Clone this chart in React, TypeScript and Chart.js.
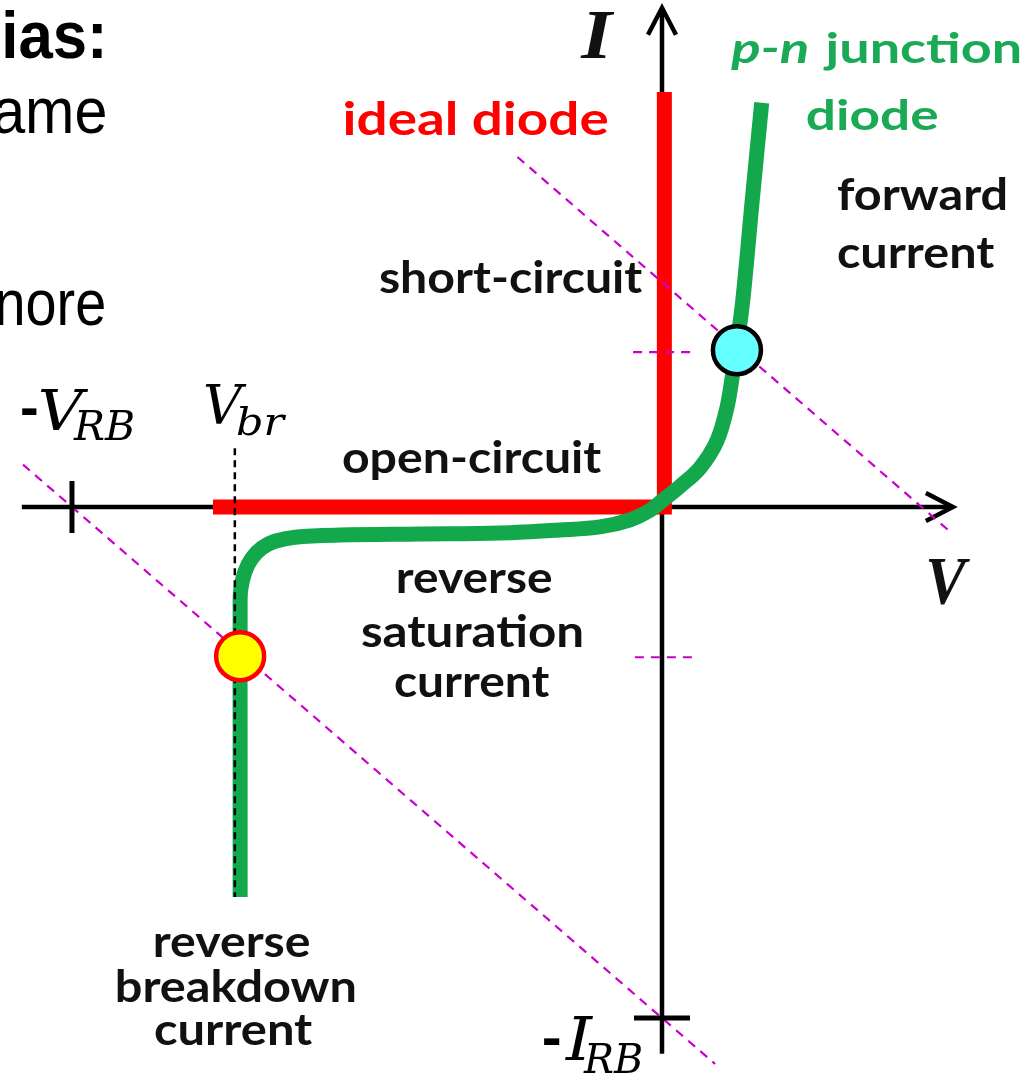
import React, { useEffect, useRef } from 'react';
import { Chart, registerables } from 'chart.js';

Chart.register(...registerables);

// ---- scale ranges (V horizontal, I vertical; origin at the axis crossing) ----
const V_RANGE = [-11.22, 6.288];
const I_RANGE = [-11.076, 9.922];

// ---- p-n junction diode I-V curve ----
const DIODE_V = [-7.15, -7.15, -7.15, -7.14, -7.07, -6.95, -6.78, -6.56, -6.22, -5.46, -4.1, -2.75, -1.73, -1.05, -0.54, -0.2, 0.0, 0.31, 0.64, 0.93, 1.1, 1.2, 1.27, 1.37, 1.53, 1.69];
const DIODE_I = [-7.63, -4.76, -2.02, -1.62, -1.27, -1.0, -0.8, -0.67, -0.59, -0.55, -0.53, -0.51, -0.45, -0.39, -0.25, -0.06, 0.12, 0.41, 0.76, 1.29, 1.94, 2.62, 3.17, 4.05, 6.01, 7.91];

// ---- ideal diode (open-circuit / short-circuit) ----
const IDEAL_V = [-7.61, 0.04, 0.04];
const IDEAL_I = [0, 0, 8.12];

// ---- axes ----
const V_AXIS = [-10.85, 4.93];
const I_AXIS = [-10.7, 9.77];
const V_RB = -10;
const I_RB = -10;

// ---- breakdown voltage marker ----
const V_BR = -7.24;
const V_BR_MARK_I = [1.15, -7.63];

// ---- load lines ----
const LOAD_FWD_V = [-2.45, 4.93];
const LOAD_FWD_I = [6.85, -0.53];
const LOAD_REV_V = [-10.83, 0.9];
const LOAD_REV_I = [0.83, -10.9];

// ---- operating points ----
const Q_FWD = [1.27, 3.07];
const Q_REV = [-7.15, -2.92];
const Q_FWD_MARK_V = [-0.49, 0.56];
const Q_FWD_MARK_I = 3.03;
const Q_REV_MARK_V = [-0.46, 0.6];
const Q_REV_MARK_I = -2.94;

const GREEN = 'rgb(20,168,76)';
const GREEN_TEXT = 'rgb(26,170,86)';
const RED = '#ff0000';
const MAGENTA = '#cc00cc';
const INK = '#111111';

const zip = (vs: number[], is: number[]) => vs.map((v, k) => ({ x: v, y: is[k] }));

type Label = { t: string; x0: number; x1: number; b: number; font: string; c: string };

const LAB = '700 44px Lato';
const MATH = '"DejaVu Serif"';
const LABELS: Label[] = [
  { t: 'ias:', x0: 5, x1: 102, b: 58, font: '700 66px "Liberation Sans"', c: '#000' },
  { t: 'ame', x0: -6, x1: 105, b: 133, font: '400 64px "Liberation Sans"', c: '#000' },
  { t: 'nore', x0: -2, x1: 104, b: 325, font: '400 64px "Liberation Sans"', c: '#000' },
  { t: 'p-n', x0: 730, x1: 807, b: 63, font: 'italic 700 42px Lato', c: GREEN_TEXT },
  { t: 'junction', x0: 823, x1: 1020, b: 63, font: '700 42px Lato', c: GREEN_TEXT },
  { t: 'diode', x0: 807, x1: 938, b: 130, font: '700 42px Lato', c: GREEN_TEXT },
  { t: 'ideal diode', x0: 345, x1: 608, b: 135, font: '700 46px Lato', c: RED },
  { t: 'forward', x0: 837, x1: 1006, b: 210, font: LAB, c: INK },
  { t: 'current', x0: 838, x1: 995, b: 268, font: LAB, c: INK },
  { t: 'short-circuit', x0: 380, x1: 643, b: 293, font: LAB, c: INK },
  { t: 'open-circuit', x0: 343, x1: 602, b: 473, font: LAB, c: INK },
  { t: 'reverse', x0: 398, x1: 552, b: 593, font: LAB, c: INK },
  { t: 'saturation', x0: 362, x1: 582, b: 647, font: LAB, c: INK },
  { t: 'current', x0: 395, x1: 550, b: 697, font: LAB, c: INK },
  { t: 'reverse', x0: 155, x1: 310, b: 957, font: LAB, c: INK },
  { t: 'breakdown', x0: 117, x1: 355, b: 1002, font: LAB, c: INK },
  { t: 'current', x0: 155, x1: 313, b: 1045, font: LAB, c: INK },
  // math labels
  { t: 'I', x0: 580, x1: 615, b: 58, font: 'italic 700 70px "Liberation Serif"', c: INK },
  { t: 'V', x0: 928, x1: 970, b: 603, font: 'italic 700 68px "Liberation Serif"', c: INK },
  { t: '-', x0: 22, x1: 37, b: 426, font: '700 56px "Liberation Sans"', c: '#000' },
  { t: 'V', x0: 40, x1: 89, b: 430, font: `italic 400 56px ${MATH}`, c: '#000' },
  { t: 'RB', x0: 73, x1: 134, b: 440, font: `italic 400 41px ${MATH}`, c: '#000' },
  { t: 'V', x0: 205, x1: 247, b: 424, font: `italic 400 55px ${MATH}`, c: '#000' },
  { t: 'br', x0: 237, x1: 287, b: 435, font: `italic 400 40px ${MATH}`, c: '#000' },
  { t: '-', x0: 544, x1: 560, b: 1056, font: '700 56px "Liberation Sans"', c: '#000' },
  { t: 'I', x0: 565, x1: 594, b: 1060, font: `italic 400 59px ${MATH}`, c: '#000' },
  { t: 'RB', x0: 583, x1: 642, b: 1073, font: `italic 400 41px ${MATH}`, c: '#000' },
];

const bgPlugin = {
  id: 'bg',
  beforeDraw(chart: any) {
    const ctx = chart.ctx;
    ctx.save();
    ctx.fillStyle = '#ffffff';
    ctx.fillRect(0, 0, chart.width, chart.height);
    ctx.restore();
  },
};

const arrowPlugin = {
  id: 'arrows',
  beforeDatasetsDraw(chart: any) {
    const ctx = chart.ctx;
    const xs = chart.scales.x;
    const ys = chart.scales.y;
    ctx.save();
    ctx.strokeStyle = '#000';
    ctx.lineWidth = 4.5;
    ctx.lineJoin = 'miter';
    ctx.lineCap = 'butt';
    const tx = xs.getPixelForValue(V_AXIS[1]);
    const ty = ys.getPixelForValue(0);
    ctx.beginPath();
    ctx.moveTo(tx - 27, ty - 14);
    ctx.lineTo(tx, ty);
    ctx.lineTo(tx - 27, ty + 14);
    ctx.stroke();
    const ux = xs.getPixelForValue(0);
    const uy = ys.getPixelForValue(I_AXIS[1]);
    ctx.beginPath();
    ctx.moveTo(ux - 14, uy + 27);
    ctx.lineTo(ux, uy);
    ctx.lineTo(ux + 14, uy + 27);
    ctx.stroke();
    ctx.restore();
  },
};

const labelPlugin = {
  id: 'labels',
  afterDraw(chart: any) {
    const ctx = chart.ctx;
    ctx.save();
    ctx.textAlign = 'left';
    ctx.textBaseline = 'alphabetic';
    for (const l of LABELS) {
      ctx.font = l.font;
      const m = ctx.measureText(l.t);
      const ink = m.actualBoundingBoxLeft + m.actualBoundingBoxRight;
      const sx = ink > 0 ? (l.x1 - l.x0) / ink : 1;
      ctx.save();
      ctx.translate(l.x0 + m.actualBoundingBoxLeft * sx, l.b);
      ctx.scale(sx, 1);
      ctx.fillStyle = l.c;
      ctx.fillText(l.t, 0, 0);
      ctx.restore();
    }
    ctx.restore();
  },
};

const lineDs = (data: any[], color: string, width: number, extra: any = {}) => ({
  data,
  showLine: true,
  borderColor: color,
  backgroundColor: color,
  borderWidth: width,
  pointRadius: 0,
  pointHoverRadius: 0,
  tension: 0,
  fill: false,
  clip: false,
  borderCapStyle: 'butt',
  borderJoinStyle: 'miter',
  ...extra,
});

export default function App() {
  const ref = useRef<HTMLCanvasElement | null>(null);
  useEffect(() => {
    document.body.style.margin = '0';
    document.body.style.background = '#fff';
    const canvas = ref.current;
    if (!canvas) return;
    const datasets: any[] = [
      {
        data: [{ x: Q_FWD[0], y: Q_FWD[1] }],
        pointRadius: 24,
        pointHoverRadius: 24,
        borderWidth: 4.5,
        pointBorderColor: '#000',
        pointBackgroundColor: '#66ffff',
        showLine: false,
        clip: false,
      },
      {
        data: [{ x: Q_REV[0], y: Q_REV[1] }],
        pointRadius: 24,
        pointHoverRadius: 24,
        borderWidth: 4.5,
        pointBorderColor: RED,
        pointBackgroundColor: '#ffff00',
        showLine: false,
        clip: false,
      },
      {
        data: [{ x: V_RB, y: 0 }],
        pointStyle: 'line',
        rotation: 90,
        pointRadius: 26,
        pointHoverRadius: 26,
        borderWidth: 5,
        pointBorderColor: '#000',
        showLine: false,
        clip: false,
      },
      {
        data: [{ x: 0, y: I_RB }],
        pointStyle: 'line',
        rotation: 0,
        pointRadius: 28,
        pointHoverRadius: 28,
        borderWidth: 5,
        pointBorderColor: '#000',
        showLine: false,
        clip: false,
      },
      lineDs(zip([V_BR, V_BR], V_BR_MARK_I), '#000', 2.5, { borderDash: [7, 5] }),
      lineDs(zip(LOAD_FWD_V, LOAD_FWD_I), MAGENTA, 2.2, { borderDash: [9, 7] }),
      lineDs(zip(LOAD_REV_V, LOAD_REV_I), MAGENTA, 2.2, { borderDash: [9, 7] }),
      lineDs(zip(Q_FWD_MARK_V, [Q_FWD_MARK_I, Q_FWD_MARK_I]), MAGENTA, 2.2, { borderDash: [9, 7] }),
      lineDs(zip(Q_REV_MARK_V, [Q_REV_MARK_I, Q_REV_MARK_I]), MAGENTA, 2.2, { borderDash: [9, 7] }),
      lineDs(zip(DIODE_V, DIODE_I), GREEN, 15, { tension: 0.35, borderJoinStyle: 'round' }),
      lineDs(zip(IDEAL_V, IDEAL_I), RED, 15),
      lineDs(zip(V_AXIS, [0, 0]), '#000', 4.5),
      lineDs(zip([0, 0], I_AXIS), '#000', 4.5),
    ];
    const chart = new Chart(canvas, {
      type: 'scatter',
      data: { datasets },
      options: {
        responsive: false,
        animation: false,
        events: [],
        layout: { padding: 0, autoPadding: false },
        scales: {
          x: { type: 'linear', min: V_RANGE[0], max: V_RANGE[1], display: false },
          y: { type: 'linear', min: I_RANGE[0], max: I_RANGE[1], display: false },
        },
        plugins: {
          legend: { display: false },
          tooltip: { enabled: false },
          title: { display: false },
        },
      } as any,
      plugins: [bgPlugin, arrowPlugin, labelPlugin],
    });
    return () => chart.destroy();
  }, []);
  return (
    <div style={{ width: 1033, height: 1073 }}>
      <canvas ref={ref} width={1033} height={1073} style={{ display: 'block' }} />
    </div>
  );
}
